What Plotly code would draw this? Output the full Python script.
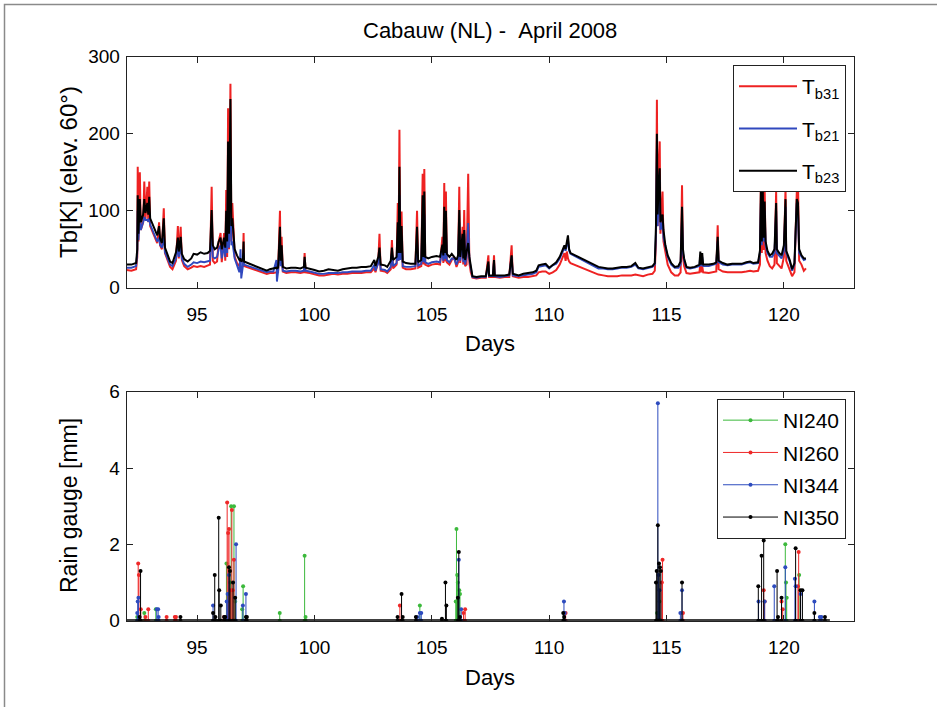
import plotly.graph_objects as go

# ---------------------------------------------------------------------------
# Microwave radiometer brightness temperatures, Cabauw, April 2008
# (day of year, K) for the 31.4 GHz, 21.0 GHz and 23.8 GHz channels
# ---------------------------------------------------------------------------
days = [
    92.00, 92.20, 92.40, 92.45, 92.47, 92.50, 92.56, 92.60, 92.70, 92.75,
    92.80, 92.88, 92.92, 92.96, 93.00, 93.10, 93.20, 93.30, 93.38, 93.42,
    93.50, 93.58, 93.63, 93.75, 93.85, 93.95, 94.05, 94.10, 94.18, 94.22,
    94.30, 94.35, 94.45, 94.60, 94.75, 94.85, 95.00, 95.15, 95.30, 95.45,
    95.55, 95.62, 95.67, 95.75, 95.85, 95.92, 96.00, 96.05, 96.15, 96.20,
    96.24, 96.28, 96.32, 96.36, 96.42, 96.46, 96.50, 96.60, 96.70, 96.80,
    96.85, 96.88, 96.95, 96.98, 97.00, 97.97, 98.10, 98.25, 98.38, 98.40,
    98.45, 98.53, 98.56, 98.60, 98.65, 98.80, 99.00, 99.20, 99.40, 99.55,
    99.58, 99.62, 99.80, 100.00, 100.20, 100.40, 100.60, 100.80, 101.00, 101.20,
    101.40, 101.60, 101.80, 102.00, 102.20, 102.40, 102.55, 102.60, 102.72, 102.77,
    102.82, 103.00, 103.10, 103.25, 103.30, 103.35, 103.50, 103.55, 103.58, 103.62,
    103.66, 103.71, 103.76, 103.90, 104.10, 104.30, 104.37, 104.42, 104.55, 104.61,
    104.64, 104.68, 104.72, 104.85, 105.00, 105.20, 105.35, 105.45, 105.49, 105.53,
    105.56, 105.60, 105.64, 105.75, 105.85, 105.95, 106.05, 106.12, 106.17, 106.21,
    106.31, 106.34, 106.38, 106.42, 106.48, 106.55, 106.60, 106.66, 106.73, 106.90,
    107.10, 107.30, 107.41, 107.44, 107.60, 107.65, 107.68, 107.90, 108.10, 108.30,
    108.40, 108.45, 108.70, 108.90, 109.10, 109.30, 109.45, 109.55, 109.70, 109.85,
    110.00, 110.15, 110.30, 110.45, 110.58, 110.65, 110.70, 110.75, 110.80, 110.85,
    110.91, 112.10, 112.30, 112.50, 112.70, 112.90, 113.10, 113.30, 113.50, 113.67,
    113.80, 114.00, 114.20, 114.40, 114.50, 114.55, 114.59, 114.62, 114.66, 114.71,
    114.74, 114.80, 114.83, 114.87, 114.95, 115.05, 115.20, 115.35, 115.50, 115.60,
    115.66, 115.70, 115.75, 115.85, 116.00, 116.20, 116.40, 116.44, 116.47, 116.52,
    116.56, 116.80, 117.00, 117.12, 117.18, 117.22, 117.40, 117.60, 117.80, 118.00,
    118.20, 118.40, 118.56, 118.70, 118.90, 118.98, 119.02, 119.06, 119.10, 119.13,
    119.18, 119.22, 119.30, 119.40, 119.50, 119.60, 119.67, 119.70, 119.80, 119.90,
    120.00, 120.07, 120.10, 120.25, 120.35, 120.45, 120.55, 120.60, 120.65, 120.75,
    120.85, 120.94,
]

tb31 = [
    23, 22, 24, 40, 157, 60, 150, 75, 85, 138,
    88, 131, 85, 138, 80, 72, 64, 58, 85, 55,
    50, 103, 45, 35, 27, 24, 30, 35, 80, 38,
    79, 36, 28, 24, 26, 28, 27, 28, 27, 29,
    30, 131, 35, 32, 34, 60, 71, 33, 71, 35,
    127, 40, 233, 50, 265, 60, 110, 40, 32, 28,
    27, 26, 28, 71, 28, 18, 19, 19, 20, 19,
    20, 100, 30, 66, 21, 19, 20, 20, 19, 20,
    45, 20, 19, 17, 16, 16, 17, 18, 17, 18,
    18, 19, 19, 19, 20, 20, 25, 20, 35, 70,
    22, 21, 19, 24, 62, 25, 30, 110, 35, 205,
    38, 99, 26, 24, 24, 25, 100, 26, 28, 148,
    30, 154, 30, 28, 30, 31, 30, 66, 32, 136,
    34, 125, 33, 30, 36, 40, 27, 33, 131, 32,
    79, 30, 101, 28, 30, 148, 32, 20, 13, 12,
    13, 13, 42, 14, 14, 42, 14, 13, 14, 14,
    55, 15, 13, 14, 14, 15, 16, 20, 21, 21,
    18, 20, 23, 30, 40, 45, 35, 47, 38, 34,
    32, 17, 16, 15, 15, 15, 16, 16, 16, 17,
    16, 15, 17, 18, 22, 60, 244, 80, 150, 190,
    70, 100, 125, 60, 45, 30, 20, 16, 16, 20,
    133, 40, 28, 19, 18, 19, 20, 30, 20, 28,
    20, 19, 20, 21, 81, 24, 21, 20, 20, 20,
    20, 21, 22, 21, 22, 30, 140, 45, 150, 49,
    130, 45, 35, 28, 25, 30, 125, 32, 28, 25,
    40, 130, 35, 22, 15, 20, 125, 140, 35, 30,
    22, 25,
]

tb21 = [
    26, 26, 28, 45, 100, 62, 95, 75, 85, 92,
    88, 88, 86, 90, 82, 74, 66, 60, 65, 56,
    52, 65, 46, 37, 30, 28, 34, 38, 55, 40,
    55, 38, 31, 27, 30, 33, 32, 34, 33, 34,
    35, 80, 40, 38, 40, 50, 55, 38, 55, 40,
    80, 45, 150, 52, 170, 55, 60, 38, 30, 20,
    50, 12, 28, 45, 30, 20, 21, 21, 36, 8,
    21, 60, 28, 40, 22, 21, 22, 22, 21, 22,
    36, 22, 21, 19, 18, 18, 19, 19, 19, 20,
    20, 21, 21, 21, 22, 22, 30, 22, 32, 45,
    24, 23, 21, 27, 45, 28, 32, 60, 35, 120,
    36, 65, 28, 27, 27, 28, 60, 29, 31, 90,
    33, 95, 33, 31, 33, 34, 33, 50, 35, 85,
    37, 80, 36, 33, 38, 38, 30, 36, 85, 35,
    60, 33, 70, 30, 40, 84, 36, 24, 14, 13,
    14, 14, 30, 15, 15, 34, 15, 14, 15, 16,
    40, 16, 15, 16, 17, 18, 20, 27, 28, 29,
    25, 29, 31, 38, 47, 52, 48, 55, 62, 48,
    44, 25, 25, 24, 24, 25, 26, 26, 27, 30,
    25, 24, 26, 27, 30, 70, 180, 80, 110, 140,
    75, 80, 85, 65, 52, 40, 30, 26, 26, 30,
    90, 45, 35, 26, 25, 26, 28, 42, 28, 40,
    28, 28, 30, 31, 60, 33, 30, 29, 30, 30,
    30, 32, 33, 31, 32, 45, 110, 55, 115, 60,
    100, 55, 45, 40, 40, 45, 100, 45, 42, 38,
    48, 105, 45, 34, 22, 30, 110, 100, 45, 40,
    36, 37,
]

tb23 = [
    30, 30, 32, 50, 120, 70, 115, 85, 95, 115,
    97, 110, 95, 118, 90, 82, 74, 68, 80, 64,
    58, 90, 52, 42, 34, 32, 40, 46, 65, 47,
    66, 44, 37, 34, 38, 44, 43, 46, 44, 45,
    48, 101, 55, 50, 52, 60, 65, 50, 65, 52,
    100, 60, 190, 70, 245, 80, 90, 50, 42, 36,
    38, 34, 36, 60, 34, 22, 24, 25, 26, 25,
    26, 79, 35, 55, 27, 25, 26, 26, 25, 27,
    40, 26, 25, 23, 21, 22, 24, 23, 22, 24,
    25, 26, 26, 27, 27, 28, 36, 28, 40, 52,
    30, 29, 27, 35, 52, 36, 40, 85, 45, 157,
    45, 80, 34, 32, 31, 31, 79, 33, 36, 120,
    40, 125, 40, 38, 40, 41, 40, 56, 42, 105,
    45, 100, 44, 40, 44, 40, 36, 42, 101, 40,
    70, 38, 75, 36, 45, 58, 40, 26, 15, 14,
    15, 15, 34, 16, 16, 36, 16, 16, 16, 17,
    42, 18, 16, 18, 19, 20, 22, 29, 30, 31,
    26, 30, 33, 40, 49, 55, 50, 60, 68, 50,
    45, 27, 26, 25, 25, 26, 27, 27, 28, 32,
    26, 25, 27, 28, 32, 80, 200, 95, 130, 155,
    85, 90, 95, 75, 55, 42, 32, 27, 28, 34,
    105, 50, 38, 27, 26, 27, 30, 47, 30, 45,
    30, 30, 31, 33, 66, 35, 32, 30, 31, 31,
    31, 33, 34, 32, 33, 48, 125, 60, 130, 65,
    112, 60, 48, 42, 44, 50, 110, 50, 45, 42,
    55, 115, 48, 36, 24, 32, 115, 110, 50, 42,
    38, 38,
]

assert len(days) == len(tb31) == len(tb21) == len(tb23)

tb_names = ["T<sub>b31</sub>", "T<sub>b21</sub>", "T<sub>b23</sub>"]

# ---------------------------------------------------------------------------
# Rain gauge records (day of year, mm) for the four nearby stations
# ---------------------------------------------------------------------------
ni240_days = [92.45, 92.75, 93.24, 96.25, 96.40, 96.45, 96.57, 96.62, 96.92, 96.96,
              98.52, 99.58, 99.62, 104.49, 106.02, 106.05, 106.08, 106.11, 106.17,
              106.20, 114.60, 114.70, 120.06, 120.09, 120.12, 120.65]
ni240_mm = [0.1, 0.2, 0.3, 1.5, 1.0, 3.0, 3.0, 0.5, 0.3, 0.9,
            0.2, 1.7, 0.1, 0.4, 0.5, 2.4, 1.2, 1.0, 0.8,
            0.7, 0.2, 0.5, 2.0, 1.0, 0.6, 1.2]

ni260_days = [92.49, 92.52, 92.60, 92.80, 92.92, 93.70, 94.05, 94.10, 96.15, 96.28,
              96.32, 96.36, 96.43, 96.48, 96.52, 96.57, 103.64, 106.35, 106.42,
              110.70, 114.80, 114.83, 115.70, 119.14, 119.18, 119.90, 119.95,
              120.60, 120.63]
ni260_mm = [1.5, 1.2, 0.3, 0.1, 0.3, 0.1, 0.1, 0.1, 0.1, 3.1,
            2.3, 2.4, 0.8, 2.9, 0.8, 1.6, 0.4, 0.2, 0.3,
            0.2, 1.0, 1.6, 0.2, 0.8, 0.5, 0.5, 0.3,
            0.9, 1.8]

ni344_days = [92.45, 92.47, 92.50, 93.28, 93.34, 93.36, 95.68, 96.26, 96.30, 96.36,
              96.66, 96.95, 97.08, 104.38, 104.49, 104.55, 106.15, 106.25, 110.63,
              110.66, 114.63, 114.66, 114.70, 115.59, 115.66, 118.92, 119.18,
              119.59, 120.06, 120.47, 120.50, 120.71, 121.30, 121.53, 121.60]
ni344_mm = [0.2, 0.5, 0.6, 0.3, 0.3, 0.1, 0.4, 0.5, 0.7, 1.2,
            2.0, 0.4, 0.7, 0.1, 0.2, 0.2, 1.6, 0.3, 0.5,
            0.2, 5.7, 1.2, 0.8, 0.2, 0.8, 0.5, 0.5,
            0.9, 1.4, 1.1, 0.9, 0.7, 0.5, 0.1, 0.1]

ni350_days = [92.55, 92.59, 94.29, 95.68, 95.75, 95.78, 95.92, 95.94, 96.01, 96.15,
              96.20, 96.36, 96.40, 96.53, 96.62, 97.08, 97.12, 103.54, 103.71,
              103.76, 104.32, 105.43, 105.58, 105.62, 106.11, 106.15, 106.20,
              110.60, 110.64, 114.55, 114.58, 114.63, 114.68, 114.72, 114.76,
              115.66, 118.91, 119.05, 119.14, 119.71, 119.75, 119.90, 120.50,
              120.71, 120.79, 121.30, 121.75]
ni350_mm = [0.1, 1.3, 0.1, 0.2, 1.2, 0.1, 2.7, 0.8, 0.4, 0.1,
            0.1, 1.4, 1.3, 1.0, 0.6, 0.1, 0.1, 0.1, 0.7,
            0.1, 0.1, 0.05, 1.0, 0.4, 0.6, 1.8, 0.1,
            0.2, 0.1, 1.0, 1.3, 2.5, 1.5, 1.4, 1.3,
            1.0, 0.9, 1.7, 2.1, 1.3, 0.1, 0.6, 1.9,
            0.8, 0.8, 0.2, 0.1]

gauge_names = ["NI240", "NI260", "NI344", "NI350"]
gauge_start, gauge_end = 92.0, 121.96   # span of the hourly gauge records

# ---------------------------------------------------------------------------
FONT = "Liberation Sans, Arial, sans-serif"
W, H = 937, 707

fig = go.Figure()

tb_colors = ["rgb(238,34,34)", "rgb(48,72,190)", "rgb(0,0,0)"]
tb_widths = [2.0, 1.9, 2.0]
for i, (name, vals, col, lw) in enumerate(
        zip(tb_names, [tb31, tb21, tb23], tb_colors, tb_widths)):
    fig.add_trace(go.Scatter(
        x=days, y=vals, mode="lines", name=name,
        line=dict(color=col, width=lw),
        xaxis="x", yaxis="y", legend="legend", legendgroup=f"tb{i}",
    ))


def stem_xy(d_list, v_list):
    xs, ys = [], []
    for d, v in zip(d_list, v_list):
        xs += [d, d, None]
        ys += [0, v, None]
    return xs, ys


gauge_colors = ["rgb(60,185,60)", "rgb(238,40,40)", "rgb(45,75,190)", "rgb(0,0,0)"]
gauge_data = [(ni240_days, ni240_mm), (ni260_days, ni260_mm),
              (ni344_days, ni344_mm), (ni350_days, ni350_mm)]
for i, (name, (dd, vv), col) in enumerate(zip(gauge_names, gauge_data, gauge_colors)):
    xs, ys = stem_xy(dd, vv)
    fig.add_trace(go.Scatter(
        x=xs, y=ys, mode="lines+markers", name=name,
        line=dict(color=col, width=1),
        marker=dict(color=col, size=4),
        xaxis="x2", yaxis="y2", legend="legend2", legendgroup=f"ni{i}",
    ))

# zero line made of the dry-hour stems
fig.add_trace(go.Scatter(
    x=[gauge_start, gauge_end], y=[0, 0], mode="lines",
    line=dict(color="black", width=3), showlegend=False,
    xaxis="x2", yaxis="y2",
))

# axes geometry (pixels -> paper fractions)
x_dom = [126.7 / W, 854.3 / W]
y1_dom = [1 - 287.7 / H, 1 - 56.7 / H]
y2_dom = [1 - 620.7 / H, 1 - 391.7 / H]

axis_common = dict(
    showline=True, linecolor="#222", linewidth=1, mirror="ticks",
    ticks="inside", ticklen=6, tickwidth=1, tickcolor="#222",
    showgrid=False, zeroline=False, automargin=False,
    tickfont=dict(family=FONT, size=19, color="black"),
)
x_ticks = dict(tickvals=[95, 100, 105, 110, 115, 120], ticklabelstandoff=9)
y_ticks = dict(ticklabelstandoff=2)

fig.update_layout(
    width=W, height=H,
    margin=dict(l=0, r=0, t=0, b=0, autoexpand=False),
    paper_bgcolor="white", plot_bgcolor="white",
    font=dict(family=FONT, color="black"),
    xaxis=dict(domain=x_dom, anchor="y", range=[92, 123], **x_ticks, **axis_common),
    yaxis=dict(domain=y1_dom, anchor="x", range=[0, 300],
               tickvals=[0, 100, 200, 300], **y_ticks, **axis_common),
    xaxis2=dict(domain=x_dom, anchor="y2", range=[92, 123], **x_ticks, **axis_common),
    yaxis2=dict(domain=y2_dom, anchor="x2", range=[0, 6],
                tickvals=[0, 2, 4, 6], **y_ticks, **axis_common),
    legend=dict(
        x=846 / W, xanchor="right", y=1 - 65 / H, yanchor="top",
        bgcolor="white", bordercolor="#222", borderwidth=1,
        font=dict(family=FONT, size=21, color="black"),
        itemwidth=58, tracegroupgap=12,
    ),
    legend2=dict(
        x=846 / W, xanchor="right", y=1 - 399 / H, yanchor="top",
        bgcolor="white", bordercolor="#222", borderwidth=1,
        font=dict(family=FONT, size=21, color="black"),
        itemwidth=55, tracegroupgap=2,
    ),
    showlegend=True,
)


def px_note(text, x, y, size, angle=0):
    fig.add_annotation(
        text=text, x=x / W, y=1 - y / H, xref="paper", yref="paper",
        showarrow=False, textangle=angle, xanchor="center", yanchor="middle",
        font=dict(family=FONT, size=size, color="black"),
    )


px_note("Cabauw (NL) - \u00a0April 2008", 490, 31, 22)
px_note("Days", 490, 344, 22)
px_note("Days", 490, 677, 22)
px_note("Tb[K] (elev. 60\u00b0)", 69, 172, 24, angle=-90)
px_note("Rain gauge [mm]", 69, 506, 23, angle=-90)

# frame around the figure
fig.add_shape(type="rect", xref="paper", yref="paper",
              x0=4.5 / W, x1=1.05, y0=-0.05, y1=1 - 4.5 / H,
              line=dict(color="#8a8a8a", width=1.5), fillcolor="rgba(0,0,0,0)",
              layer="below")

fig.write_html("out.html")
